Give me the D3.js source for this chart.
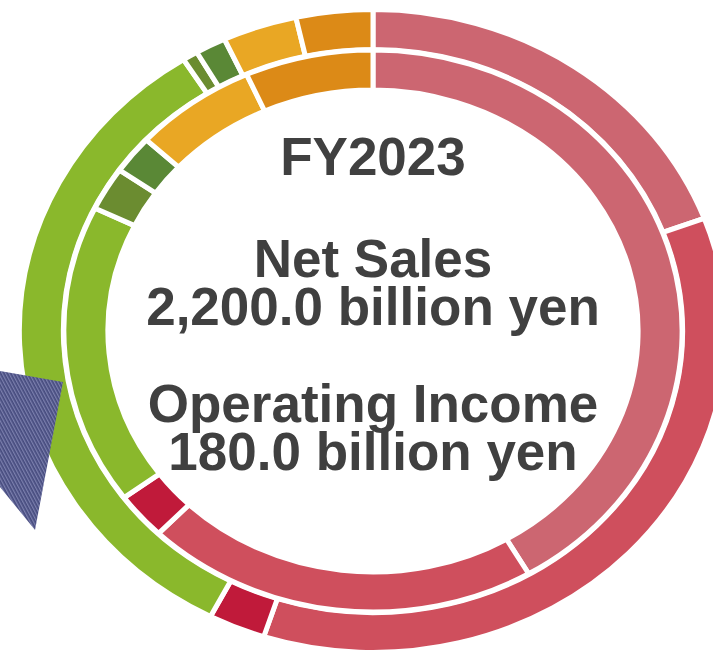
<!DOCTYPE html>
<html>
<head>
<meta charset="utf-8">
<script src="https://cdn.jsdelivr.net/npm/d3@7"></script>
<style>
  body { margin: 0; background: #fff; }
  svg { display: block; }
</style>
</head>
<body>
<svg width="713" height="651"></svg>
<script>
(function (d3) {
  'use strict';

  // segments, clockwise from 12 o'clock
  const segments = ['Segment A', 'Segment B', 'Segment C', 'Segment D',
                    'Segment E', 'Segment F', 'Segment G', 'Segment H'];
  const colors = ['#cc6671', '#cf4f5d', '#c01a3a', '#8ab82c',
                  '#6b8c30', '#5a8836', '#e9a724', '#dc8a17'];
  // share of total (%)
  const outerShare = [19.3, 35.7, 2.6, 33.4, 0.7, 1.4, 3.4, 3.5];
  const innerShare = [41.6, 20.6, 2.7, 17.3, 2.5, 2.2, 6.4, 6.7];
  const titleLines = ['FY2023', 'Net Sales', '2,200.0 billion yen',
                      'Operating Income', '180.0 billion yen'];

  const svg = d3.select('svg');
  const cx = 373, cy = 331;

  const pie = d3.pie().sort(null).value(d => d.v);
  const toRows = vals => vals.map((v, i) => ({ v, name: segments[i], color: colors[i] }));

  const rings = [
    { data: toRows(outerShare), inner: 281.5, outer: 321.5 },
    { data: toRows(innerShare), inner: 241, outer: 281 }
  ];

  // the donut is a bit wider than tall
  const g = svg.append('g')
    .attr('transform', `translate(${cx},${cy}) scale(1.1,1)`);

  rings.forEach(r => {
    const arc = d3.arc().innerRadius(r.inner).outerRadius(r.outer);
    g.append('g').selectAll('path')
      .data(pie(r.data))
      .enter().append('path')
        .attr('d', arc)
        .attr('fill', d => d.data.color)
        .attr('stroke', '#fff')
        .attr('stroke-width', 5)
        .attr('vector-effect', 'non-scaling-stroke');
  });

  // hatched arrow on the left edge
  const defs = svg.append('defs');
  const pat = defs.append('pattern')
    .attr('id', 'hatch')
    .attr('width', 3).attr('height', 3)
    .attr('patternUnits', 'userSpaceOnUse')
    .attr('patternTransform', 'rotate(-28)');
  pat.append('rect').attr('width', 3).attr('height', 3).attr('fill', '#464b7e');
  pat.append('rect').attr('width', 1.3).attr('height', 3).attr('fill', '#7b7fad');

  svg.append('path')
    .attr('d', 'M-20,367.5 L63,382 L35,530 L-20,462.4 Z')
    .attr('fill', 'url(#hatch)');

  // centre text
  const baselines = [175, 277, 325, 422, 470];
  svg.append('g').selectAll('text')
    .data(titleLines)
    .enter().append('text')
      .attr('x', cx)
      .attr('y', (d, i) => baselines[i])
      .attr('text-anchor', 'middle')
      .attr('font-family', '"Liberation Sans", Arial, sans-serif')
      .attr('font-weight', 'bold')
      .attr('font-size', 53)
      .attr('fill', '#404040')
      .text(d => d);

}(d3));
</script>
</body>
</html>
